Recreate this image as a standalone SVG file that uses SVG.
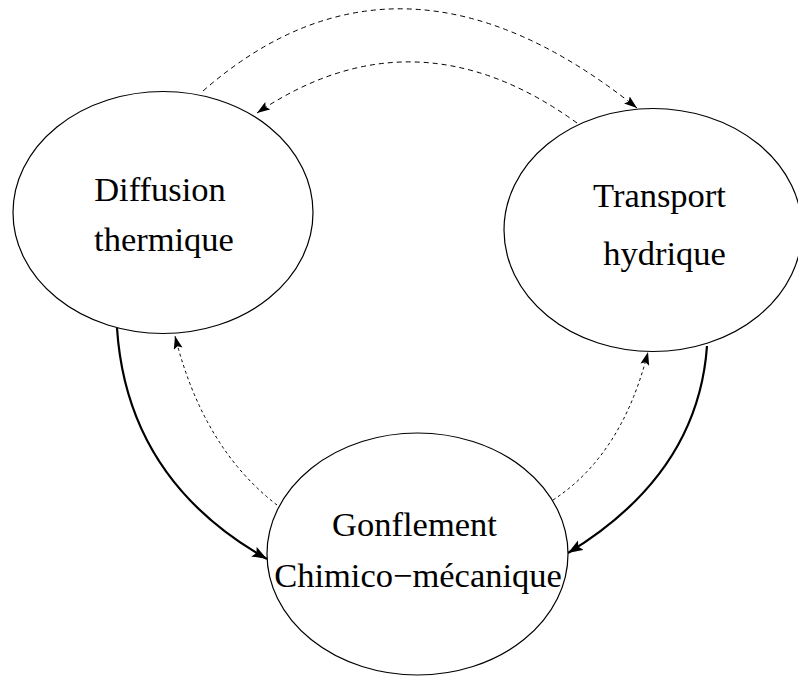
<svg xmlns="http://www.w3.org/2000/svg" width="798" height="677" viewBox="0 0 798 677">
<style>
.node{fill:#fff;stroke:#000;stroke-width:1.2}
.lbl{font-family:"Liberation Serif","Times New Roman",serif;font-size:34.5px;fill:#000;text-anchor:middle}
.solid{fill:none;stroke:#000;stroke-width:2.2}
.dash1{fill:none;stroke:#000;stroke-width:1;stroke-dasharray:5 4}
.dash2{fill:none;stroke:#000;stroke-width:1;stroke-dasharray:3 3}
</style>
<defs>
<marker id="aThick" markerUnits="userSpaceOnUse" markerWidth="16" markerHeight="12" refX="15" refY="5.5" orient="auto">
<path d="M0,0 L15,5.5 L0,11 L3,5.5 z" fill="#000"/>
</marker>
<marker id="aThin" markerUnits="userSpaceOnUse" markerWidth="14" markerHeight="10" refX="13" refY="4.5" orient="auto">
<path d="M0,0 L13,4.5 L0,9 L2.5,4.5 z" fill="#000"/>
</marker>
</defs>
<rect width="798" height="677" fill="#fff"/>
<g id="connectors">
<path class="dash1" d="M203,91 Q400,-81.5 637,108" marker-end="url(#aThin)"/>
<path class="dash1" d="M577,123 Q415,6 257,113" marker-end="url(#aThin)"/>
<path class="solid" d="M117,328 Q127,480 267,559" marker-end="url(#aThick)"/>
<path class="dash2" d="M277,505 Q203,448 175,336" marker-end="url(#aThin)"/>
<path class="solid" d="M707,346 Q698,474 568,553" marker-end="url(#aThick)"/>
<path class="dash2" d="M553,500 Q622,455 648,352" marker-end="url(#aThin)"/>
</g>
<g id="node-diffusion">
<ellipse class="node" cx="163" cy="212.5" rx="150" ry="121"/>
<text class="lbl" x="160" y="201">Diffusion</text>
<text class="lbl" x="164" y="251">thermique</text>
</g>
<g id="node-transport">
<ellipse class="node" cx="653" cy="230" rx="149" ry="121.5"/>
<text class="lbl" x="659.5" y="207">Transport</text>
<text class="lbl" x="664.5" y="265">hydrique</text>
</g>
<g id="node-gonflement">
<ellipse class="node" cx="417.5" cy="554" rx="150.5" ry="121"/>
<text class="lbl" x="414.5" y="536">Gonflement</text>
<text class="lbl" x="418" y="587">Chimico−mécanique</text>
</g>
</svg>
